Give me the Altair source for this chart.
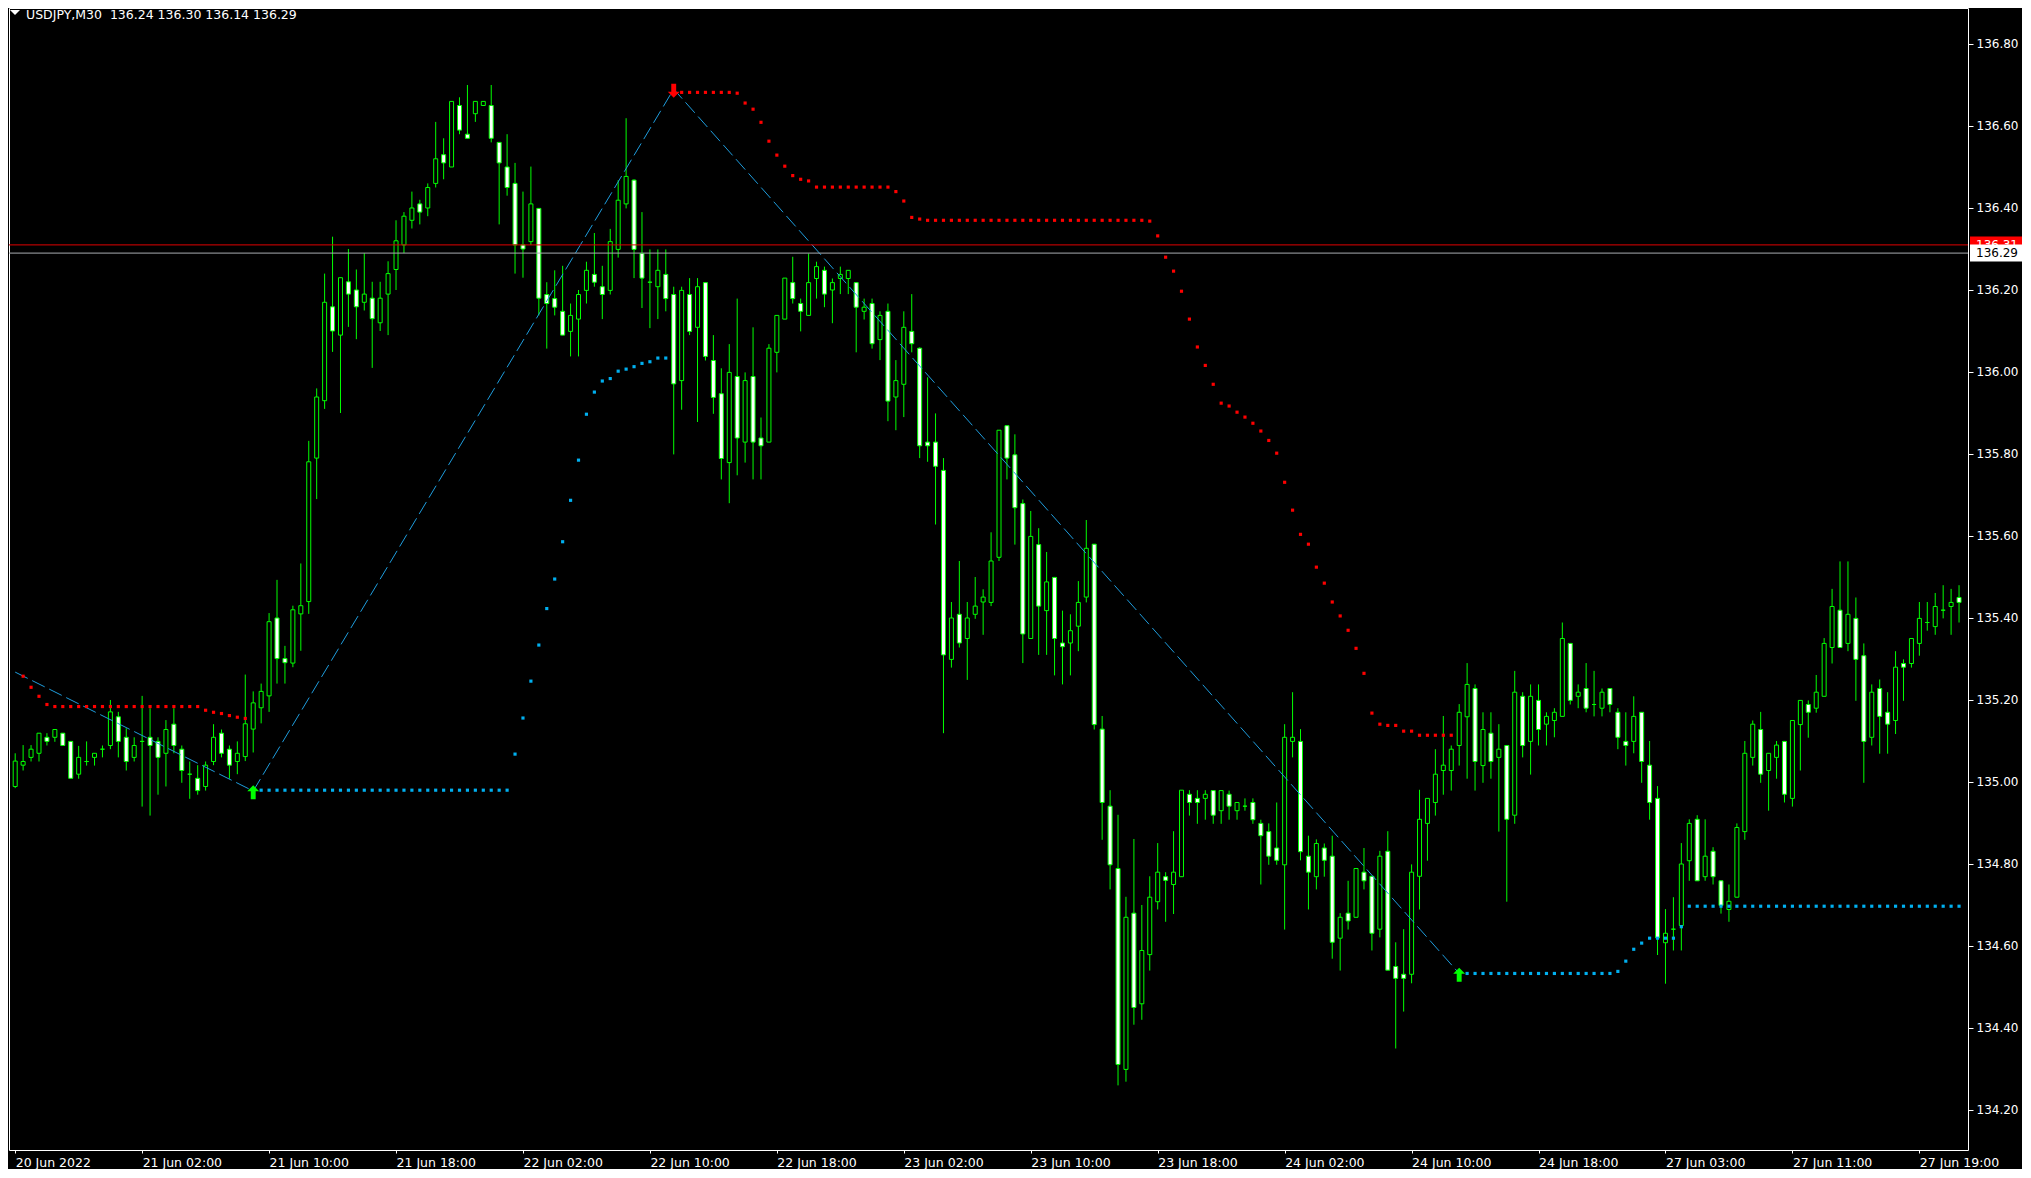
import altair as alt
import pandas as pd

# ---------------- data ----------------
opens = [
    134.989, 135.041, 135.060, 135.070, 135.109, 135.109, 135.119, 135.099, 135.019, 135.050,
    135.060, 135.080, 135.089, 135.159, 135.109, 135.060, 135.099, 135.109, 135.099, 135.070,
    135.141, 135.080, 135.019, 135.009, 134.989, 135.050, 135.119, 135.080, 135.050, 135.062,
    135.129, 135.181, 135.210, 135.400, 135.301, 135.290, 135.410, 135.440, 135.790, 135.930,
    136.159, 136.090, 136.220, 136.200, 136.170, 136.180, 136.120, 136.190, 136.250, 136.310,
    136.370, 136.410, 136.400, 136.460, 136.530, 136.500, 136.650, 136.580, 136.630, 136.650,
    136.650, 136.560, 136.500, 136.460, 136.310, 136.318, 136.399, 136.189, 136.179, 136.148,
    136.099, 136.129, 136.199, 136.238, 136.208, 136.199, 136.299, 136.410, 136.468, 136.289,
    136.219, 136.208, 136.238, 136.189, 135.979, 136.189, 136.109, 136.218, 136.028, 135.947,
    135.779, 135.989, 135.829, 135.989, 135.839, 135.829, 136.048, 136.129, 136.218, 136.167,
    136.138, 136.228, 136.248, 136.200, 136.228, 136.228, 136.218, 136.148, 136.167, 136.079,
    136.148, 135.939, 135.970, 136.099, 136.058, 135.829, 135.829, 135.760, 135.299, 135.409,
    135.350, 135.409, 135.439, 135.438, 135.548, 135.869, 135.798, 135.679, 135.350, 135.579,
    135.418, 135.499, 135.339, 135.339, 135.380, 135.451, 135.580, 135.129, 134.941, 134.789,
    134.299, 134.680, 134.459, 134.579, 134.708, 134.769, 134.750, 134.769, 134.970, 134.960,
    134.960, 134.979, 134.930, 134.970, 134.930, 134.941, 134.950, 134.899, 134.879, 134.839,
    134.798, 135.099, 135.099, 134.819, 134.769, 134.839, 134.819, 134.619, 134.680, 134.670,
    134.780, 134.770, 134.641, 134.831, 134.550, 134.531, 134.531, 134.770, 134.899, 134.950,
    135.028, 135.028, 135.089, 135.159, 135.228, 135.040, 135.119, 135.060, 135.089, 134.919,
    135.209, 135.099, 135.199, 135.141, 135.150, 135.160, 135.338, 135.209, 135.228, 135.189,
    135.180, 135.228, 135.170, 135.099, 135.099, 135.170, 135.041, 134.960, 134.608, 134.641,
    134.650, 134.808, 134.909, 134.769, 134.831, 134.759, 134.689, 134.719, 134.879, 135.060,
    135.128, 135.028, 135.060, 135.099, 134.960, 135.140, 135.189, 135.180, 135.209, 135.328,
    135.419, 135.338, 135.399, 135.308, 135.109, 135.228, 135.170, 135.150, 135.289, 135.289,
    135.338, 135.389, 135.379, 135.419, 135.428, 135.450,
]
highs = [
    135.070, 135.090, 135.090, 135.119, 135.119, 135.128, 135.119, 135.099, 135.088, 135.099,
    135.070, 135.089, 135.200, 135.171, 135.131, 135.109, 135.210, 135.180, 135.109, 135.151,
    135.180, 135.089, 135.050, 135.041, 135.050, 135.141, 135.128, 135.089, 135.099, 135.262,
    135.221, 135.240, 135.412, 135.493, 135.332, 135.430, 135.533, 135.832, 135.960, 136.240,
    136.330, 136.230, 136.300, 136.250, 136.290, 136.220, 136.220, 136.270, 136.370, 136.390,
    136.440, 136.420, 136.460, 136.610, 136.570, 136.660, 136.670, 136.700, 136.660, 136.660,
    136.700, 136.560, 136.580, 136.510, 136.440, 136.501, 136.400, 136.219, 136.248, 136.259,
    136.167, 136.200, 136.269, 136.339, 136.259, 136.349, 136.468, 136.619, 136.470, 136.390,
    136.299, 136.299, 136.299, 136.208, 136.208, 136.229, 136.229, 136.218, 136.090, 136.009,
    136.068, 136.179, 135.999, 136.109, 135.889, 136.068, 136.138, 136.229, 136.281, 136.179,
    136.289, 136.269, 136.257, 136.228, 136.257, 136.248, 136.218, 136.179, 136.179, 136.148,
    136.167, 136.029, 136.148, 136.190, 136.060, 135.987, 135.899, 135.790, 135.439, 135.539,
    135.439, 135.500, 135.470, 135.609, 135.858, 135.870, 135.848, 135.689, 135.661, 135.619,
    135.561, 135.500, 135.418, 135.409, 135.490, 135.639, 135.580, 135.161, 134.980, 134.920,
    134.720, 134.861, 134.700, 134.770, 134.851, 134.780, 134.880, 134.980, 134.980, 134.980,
    134.980, 134.980, 134.980, 134.979, 134.950, 134.960, 134.960, 134.908, 134.899, 134.950,
    135.141, 135.219, 135.129, 134.869, 134.860, 134.850, 134.869, 134.680, 134.759, 134.790,
    134.839, 134.770, 134.832, 134.880, 134.609, 134.641, 134.799, 134.981, 134.960, 135.080,
    135.161, 135.089, 135.190, 135.290, 135.238, 135.170, 135.170, 135.141, 135.090, 135.271,
    135.219, 135.238, 135.238, 135.170, 135.180, 135.389, 135.338, 135.238, 135.290, 135.271,
    135.228, 135.228, 135.180, 135.170, 135.209, 135.170, 135.100, 134.990, 134.690, 134.719,
    134.851, 134.909, 134.919, 134.909, 134.841, 134.760, 134.750, 134.899, 135.100, 135.150,
    135.171, 135.070, 135.100, 135.100, 135.150, 135.200, 135.199, 135.261, 135.351, 135.471,
    135.538, 135.538, 135.450, 135.338, 135.238, 135.250, 135.219, 135.319, 135.299, 135.350,
    135.439, 135.439, 135.461, 135.480, 135.471, 135.480,
]
lows = [
    134.985, 135.028, 135.050, 135.050, 135.089, 135.098, 135.089, 135.009, 135.008, 135.040,
    135.040, 135.060, 135.080, 135.060, 135.028, 135.050, 134.940, 134.918, 134.969, 134.989,
    135.070, 134.998, 134.959, 134.969, 134.979, 135.041, 135.060, 135.008, 135.019, 135.051,
    135.072, 135.143, 135.171, 135.240, 135.240, 135.280, 135.320, 135.410, 135.690, 135.910,
    136.049, 135.900, 136.110, 136.080, 136.150, 136.010, 136.100, 136.090, 136.200, 136.290,
    136.350, 136.360, 136.380, 136.450, 136.470, 136.500, 136.580, 136.570, 136.610, 136.650,
    136.560, 136.360, 136.430, 136.240, 136.230, 136.310, 136.138, 136.057, 136.138, 136.090,
    136.038, 136.038, 136.167, 136.208, 136.129, 136.189, 136.279, 136.399, 136.229, 136.156,
    136.107, 136.129, 136.148, 135.799, 135.908, 136.090, 135.878, 136.028, 135.898, 135.738,
    135.680, 135.748, 135.779, 135.738, 135.738, 135.829, 135.999, 136.129, 136.167, 136.099,
    136.138, 136.179, 136.158, 136.119, 136.190, 136.190, 136.048, 136.128, 136.057, 136.029,
    135.880, 135.858, 135.890, 136.048, 135.790, 135.781, 135.628, 135.119, 135.279, 135.328,
    135.249, 135.398, 135.359, 135.429, 135.539, 135.738, 135.579, 135.290, 135.350, 135.310,
    135.310, 135.260, 135.238, 135.260, 135.319, 135.438, 135.128, 134.859, 134.738, 134.260,
    134.269, 134.408, 134.420, 134.540, 134.689, 134.659, 134.678, 134.769, 134.918, 134.898,
    134.908, 134.898, 134.898, 134.908, 134.908, 134.930, 134.898, 134.750, 134.798, 134.798,
    134.640, 135.060, 134.809, 134.689, 134.738, 134.769, 134.569, 134.540, 134.640, 134.670,
    134.738, 134.589, 134.621, 134.541, 134.350, 134.440, 134.509, 134.689, 134.808, 134.918,
    134.969, 134.979, 135.040, 135.008, 134.979, 134.998, 135.008, 134.879, 134.708, 134.898,
    135.060, 135.018, 135.089, 135.089, 135.109, 135.160, 135.189, 135.180, 135.170, 135.160,
    135.160, 135.170, 135.080, 135.040, 135.070, 134.998, 134.908, 134.578, 134.508, 134.589,
    134.589, 134.759, 134.759, 134.759, 134.750, 134.679, 134.659, 134.719, 134.859, 135.040,
    134.998, 134.930, 135.008, 134.950, 134.940, 135.028, 135.108, 135.169, 135.209, 135.289,
    135.328, 135.319, 135.198, 134.998, 135.089, 135.069, 135.069, 135.117, 135.198, 135.279,
    135.308, 135.369, 135.359, 135.399, 135.359, 135.389,
]
closes = [
    135.051, 135.050, 135.080, 135.119, 135.099, 135.128, 135.089, 135.009, 135.060, 135.050,
    135.070, 135.080, 135.171, 135.099, 135.050, 135.089, 135.099, 135.089, 135.060, 135.128,
    135.089, 135.028, 135.019, 134.979, 135.041, 135.109, 135.070, 135.041, 135.070, 135.142,
    135.193, 135.221, 135.391, 135.301, 135.291, 135.420, 135.430, 135.781, 135.939, 136.170,
    136.100, 136.230, 136.190, 136.159, 136.190, 136.130, 136.180, 136.240, 136.320, 136.380,
    136.400, 136.390, 136.450, 136.520, 136.510, 136.660, 136.590, 136.570, 136.660, 136.660,
    136.570, 136.510, 136.450, 136.310, 136.300, 136.410, 136.180, 136.167, 136.158, 136.090,
    136.138, 136.189, 136.248, 136.219, 136.189, 136.318, 136.419, 136.477, 136.299, 136.229,
    136.219, 136.248, 136.179, 135.971, 136.199, 136.099, 136.208, 136.038, 135.938, 135.789,
    135.999, 135.839, 135.979, 135.829, 135.820, 136.058, 136.138, 136.229, 136.179, 136.148,
    136.218, 136.257, 136.190, 136.218, 136.238, 136.248, 136.158, 136.158, 136.069, 136.138,
    135.929, 135.979, 136.109, 136.069, 135.820, 135.820, 135.770, 135.310, 135.400, 135.339,
    135.400, 135.429, 135.451, 135.539, 135.858, 135.790, 135.669, 135.361, 135.599, 135.429,
    135.488, 135.350, 135.330, 135.369, 135.438, 135.570, 135.140, 134.950, 134.798, 134.311,
    134.670, 134.450, 134.589, 134.719, 134.780, 134.760, 134.780, 134.980, 134.950, 134.950,
    134.970, 134.919, 134.979, 134.941, 134.950, 134.941, 134.908, 134.869, 134.819, 134.809,
    135.109, 135.109, 134.830, 134.780, 134.850, 134.809, 134.609, 134.670, 134.661, 134.789,
    134.759, 134.631, 134.819, 134.541, 134.521, 134.521, 134.780, 134.909, 134.960, 135.019,
    135.041, 135.080, 135.170, 135.238, 135.050, 135.128, 135.050, 135.080, 134.909, 135.219,
    135.089, 135.209, 135.128, 135.160, 135.170, 135.350, 135.199, 135.219, 135.180, 135.189,
    135.219, 135.189, 135.109, 135.089, 135.160, 135.050, 134.950, 134.620, 134.631, 134.641,
    134.800, 134.899, 134.759, 134.819, 134.769, 134.699, 134.709, 134.889, 135.070, 135.141,
    135.019, 135.070, 135.090, 134.970, 135.150, 135.199, 135.170, 135.219, 135.338, 135.428,
    135.328, 135.409, 135.299, 135.099, 135.219, 135.160, 135.141, 135.280, 135.280, 135.350,
    135.399, 135.389, 135.428, 135.419, 135.438, 135.438,
]

# red trailing dots (first bar index, then one value per bar)
red_a_start = 1
red_a = [135.258, 135.231, 135.209, 135.189,
         135.184, 135.184, 135.184, 135.184, 135.184, 135.184, 135.184, 135.184, 135.184, 135.184,
         135.184, 135.184, 135.184, 135.184, 135.184, 135.184, 135.184, 135.184, 135.184,
         135.175, 135.170, 135.167, 135.162, 135.158, 135.155]
red_b_start = 84
red_b = [136.682, 136.682, 136.682, 136.682, 136.682, 136.682, 136.682, 136.680, 136.656, 136.641,
         136.609, 136.563, 136.529, 136.502, 136.479, 136.470, 136.466,
         136.451, 136.451, 136.451, 136.451, 136.451, 136.451, 136.451, 136.451, 136.451, 136.451,
         136.440, 136.417, 136.377, 136.373,
         136.370, 136.370, 136.370, 136.370, 136.370, 136.370, 136.370, 136.370, 136.370, 136.370,
         136.370, 136.370, 136.370, 136.370, 136.370, 136.370, 136.370, 136.370, 136.370, 136.370,
         136.370, 136.370, 136.370, 136.370, 136.370, 136.370, 136.370, 136.370,
         136.368, 136.332, 136.280, 136.246, 136.197, 136.129, 136.061, 136.016, 135.970, 135.924,
         135.917, 135.902, 135.890, 135.875, 135.856, 135.833, 135.802, 135.731, 135.663, 135.604,
         135.580, 135.524, 135.485, 135.439, 135.405, 135.370, 135.326, 135.265,
         135.168, 135.141, 135.138, 135.138, 135.124, 135.124,
         135.114, 135.114, 135.114, 135.114, 135.114]

# blue trailing dots
blue_a_start = 31
blue_a = [134.980, 134.980, 134.980, 134.980, 134.980, 134.980, 134.980, 134.980, 134.980, 134.980,
          134.980, 134.980, 134.980, 134.980, 134.980, 134.980, 134.980, 134.980, 134.980, 134.980,
          134.980, 134.980, 134.980, 134.980, 134.980, 134.980, 134.980, 134.980, 134.980, 134.980,
          134.980, 134.980,
          135.068, 135.156, 135.246, 135.334, 135.423, 135.495, 135.586, 135.687, 135.785, 135.897,
          135.951, 135.978, 135.984, 136.002, 136.007, 136.013, 136.021, 136.025, 136.034, 136.034]
blue_b_start = 183
blue_b = [134.533, 134.533, 134.533, 134.533, 134.533, 134.533, 134.533, 134.533, 134.533, 134.533,
          134.533, 134.533, 134.533, 134.533, 134.533, 134.533, 134.533, 134.533, 134.533,
          134.538, 134.563, 134.592, 134.607, 134.619, 134.619, 134.619, 134.619, 134.647,
          134.697, 134.697, 134.697, 134.697, 134.697, 134.697, 134.697, 134.697, 134.697, 134.697,
          134.697, 134.697, 134.697, 134.697, 134.697, 134.697, 134.697, 134.697, 134.697, 134.697,
          134.697, 134.697, 134.697, 134.697, 134.697, 134.697, 134.697, 134.697, 134.697, 134.697,
          134.697, 134.697, 134.697, 134.697, 134.697]

# dashed swing line and signal arrows
swing_bars = [0, 30, 83, 182]
swing_prices = [135.268, 134.978, 136.690, 134.533]
arrow_bars = [30, 83, 182]
arrow_prices = [134.975, 136.686, 134.530]
arrow_dirs = ["up", "down", "up"]

# bid / ask
bid_price = 136.29
ask_price = 136.31

tick_bars = [0, 16, 32, 48, 64, 80, 96, 112, 128, 144, 160, 176, 192, 208, 224, 240]
tick_labels = ["20 Jun 2022", "21 Jun 02:00", "21 Jun 10:00", "21 Jun 18:00", "22 Jun 02:00",
               "22 Jun 10:00", "22 Jun 18:00", "23 Jun 02:00", "23 Jun 10:00", "23 Jun 18:00",
               "24 Jun 02:00", "24 Jun 10:00", "24 Jun 18:00", "27 Jun 03:00", "27 Jun 11:00",
               "27 Jun 19:00"]
price_ticks = [134.2, 134.4, 134.6, 134.8, 135.0, 135.2, 135.4, 135.6, 135.8, 136.0,
               136.2, 136.4, 136.6, 136.8]
title_text = "USDJPY,M30 \u00a0136.24 136.30 136.14 136.29"

# ---------------- frames ----------------
n = len(opens)
candles = pd.DataFrame({"bar": list(range(n)), "o": opens, "h": highs, "l": lows, "c": closes})
candles["lo"] = candles[["o", "c"]].min(axis=1)
candles["hi"] = candles[["o", "c"]].max(axis=1)
candles["dir"] = ["bull" if c >= o else "bear" for o, c in zip(opens, closes)]

def dots(start, vals):
    return pd.DataFrame({"bar": list(range(start, start + len(vals))), "v": vals})

red_df = pd.concat([dots(red_a_start, red_a), dots(red_b_start, red_b)])
blue_df = pd.concat([dots(blue_a_start, blue_a), dots(blue_b_start, blue_b)])
swing_df = pd.DataFrame({"bar": swing_bars, "v": swing_prices})
arrow_df = pd.DataFrame({"bar": arrow_bars, "v": arrow_prices, "dir": arrow_dirs})

PX = 410.0  # pixels per 1.00 of price (for label box half height)
box_df = pd.DataFrame({
    "price": [ask_price, bid_price],
    "lo": [ask_price - 8.5 / PX, bid_price - 8.5 / PX],
    "hi": [ask_price + 8.5 / PX, bid_price + 8.5 / PX],
    "kind": ["ask", "bid"],
    "txt": [f"{ask_price:.2f}", f"{bid_price:.2f}"],
})
lines_df = pd.DataFrame({"price": [ask_price, bid_price], "kind": ["ask", "bid"]})

# ---------------- scales & axes ----------------
xs = alt.Scale(domain=[-0.15, 245.5], nice=False, zero=False)
ys = alt.Scale(domain=[134.1024, 136.8878], nice=False, zero=False)

label_js = "[" + ",".join("'" + s + "'" for s in tick_labels) + "]"
x_axis = alt.Axis(values=tick_bars, labelExpr=label_js + "[round(datum.value / 16)]",
                  labelAlign="left", labelBaseline="top", labelPadding=3, tickSize=3,
                  tickColor="white", labelColor="white", labelFont="DejaVu Sans",
                  labelFontSize=12.5, labelFlush=False, labelOverlap=False, grid=False,
                  domain=False, title=None)
y_axis = alt.Axis(orient="right", values=price_ticks, format=".2f", tickSize=5,
                  tickColor="white", labelColor="white", labelFont="DejaVu Sans",
                  labelFontSize=12, labelPadding=3, grid=False, domain=False, title=None,
                  labelFlush=False, labelOverlap=False)

X = alt.X("bar:Q", scale=xs, axis=x_axis)

def Y(field):
    return alt.Y(field, scale=ys, axis=y_axis)

GREEN = "#00FF00"

wicks = alt.Chart(candles).mark_rule(color=GREEN, strokeWidth=1).encode(
    x=X, y=Y("l:Q"), y2="h:Q")
bodies = alt.Chart(candles).mark_bar(size=4, stroke=GREEN, strokeWidth=1).encode(
    x=X, y=Y("lo:Q"), y2="hi:Q",
    fill=alt.Fill("dir:N", scale=alt.Scale(domain=["bull", "bear"], range=["black", "white"]),
                  legend=None))

red_dots = alt.Chart(red_df).mark_square(size=10, color="#FF0000", opacity=1).encode(
    x=X, y=Y("v:Q"))
blue_dots = alt.Chart(blue_df).mark_square(size=10, color="#00B0F0", opacity=1).encode(
    x=X, y=Y("v:Q"))
swing = alt.Chart(swing_df).mark_line(color="#1E9CDC", strokeWidth=1,
                                     strokeDash=[14, 5]).encode(x=X, y=Y("v:Q"))

up_path = "M0,-1L0.85,-0.15L0.35,-0.15L0.35,1L-0.35,1L-0.35,-0.15L-0.85,-0.15Z"
down_path = "M0,1L0.85,0.15L0.35,0.15L0.35,-1L-0.35,-1L-0.35,0.15L-0.85,0.15Z"
arrows = alt.Chart(arrow_df).mark_point(filled=True, size=196, opacity=1).encode(
    x=X, y=Y("v:Q"),
    shape=alt.Shape("dir:N", scale=alt.Scale(domain=["up", "down"], range=[up_path, down_path]),
                    legend=None),
    color=alt.Color("dir:N", scale=alt.Scale(domain=["up", "down"], range=[GREEN, "#FF0000"]),
                    legend=None))

price_lines = alt.Chart(lines_df).mark_rule(strokeWidth=1).encode(
    y=Y("price:Q"),
    color=alt.Color("kind:N", scale=alt.Scale(domain=["ask", "bid"], range=["#E00000", "#A8ACB0"]),
                    legend=None))

boxes = alt.Chart(box_df).mark_rect().encode(
    x=alt.value(1961), x2=alt.value(2013), y=Y("lo:Q"), y2="hi:Q",
    fill=alt.Fill("kind:N", scale=alt.Scale(domain=["ask", "bid"], range=["#FF0000", "white"]),
                  legend=None))
box_text = alt.Chart(box_df).mark_text(align="left", baseline="middle", font="DejaVu Sans",
                                       fontSize=12).encode(
    x=alt.value(1967), y=Y("price:Q"), text="txt:N",
    color=alt.Color("kind:N", scale=alt.Scale(domain=["ask", "bid"], range=["white", "black"]),
                    legend=None))

title_df = pd.DataFrame({"t": [title_text]})
title_mark = alt.Chart(title_df).mark_text(align="left", baseline="top", color="white",
                                           font="DejaVu Sans", fontSize=12.5).encode(
    x=alt.value(17), y=alt.value(0.5), text="t:N")
title_tri = alt.Chart(title_df).mark_point(shape="M-1,-0.5L1,-0.5L0,0.5Z", size=100,
                                           filled=True, color="white", opacity=1).encode(
    x=alt.value(6), y=alt.value(4.5))

chart = alt.layer(
    wicks, bodies, swing, red_dots, blue_dots, arrows, price_lines, boxes, box_text,
    title_tri, title_mark
).resolve_scale(color="independent", fill="independent", shape="independent").properties(
    width=1959, height=1142
).configure(
    background="black", padding={"left": 0, "top": 0, "right": 0, "bottom": 0}
).configure_view(stroke="white", strokeWidth=1)

chart.save("out.html", embed_options={"renderer": "svg", "actions": False})
